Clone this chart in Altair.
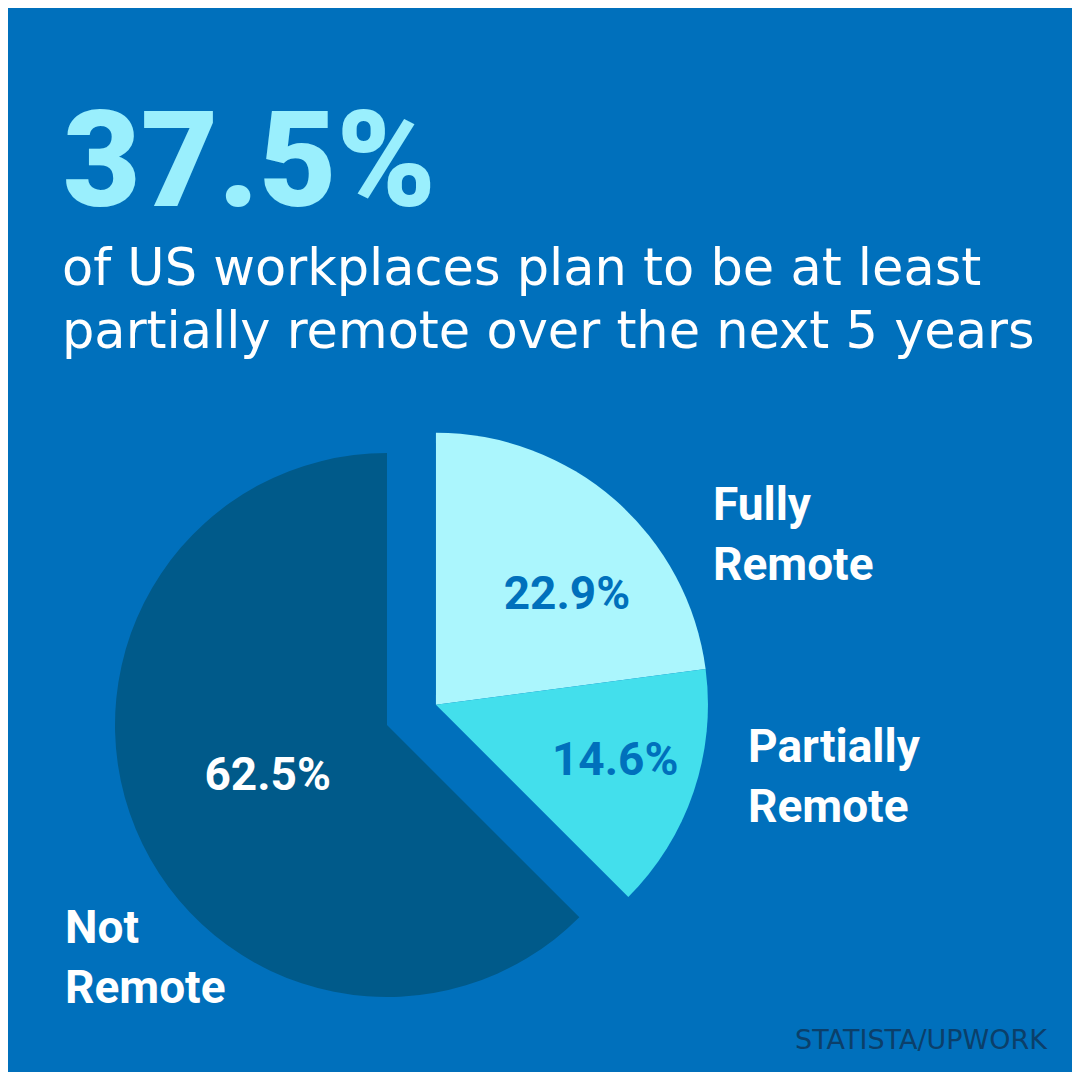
import math
import altair as alt
import pandas as pd

# ---- data ----
categories = ["Fully Remote", "Partially Remote", "Not Remote"]
values = [22.9, 14.6, 62.5]
label_text = ["Fully\nRemote", "Partially\nRemote", "Not\nRemote"]
groups = ["remote", "remote", "not"]
headline = "37.5%"
subtitle = "of US workplaces plan to be at least\npartially remote over the next 5 years"
source = "STATISTA/UPWORK"

# ---- style ----
BG = "#0070BC"
slice_colors = ["#ABF6FD", "#43DFEC", "#005A8A"]
pct_colors = ["#0070BC", "#0070BC", "#FFFFFF"]
FONT = "Roboto"
R = 272
CX, CY = 379, 717          # centre of the main pie
EXPLODE = 53               # pull-out distance of the remote slices

remote_share = sum(v for v, g in zip(values, groups) if g == "remote")
mid_ang = 2 * math.pi * (remote_share / 2) / 100
EX, EY = CX + EXPLODE * math.sin(mid_ang), CY - EXPLODE * math.cos(mid_ang)

df = pd.DataFrame({
    "category": categories,
    "value": values,
    "pct": [f"{v}%" for v in values],
    "name": label_text,
    "group": groups,
    "order": list(range(len(categories))),
})

theta_scale = alt.Scale(domain=[0, 100], range=[0, 2 * math.pi])
color_scale = alt.Scale(domain=categories, range=slice_colors)

base = alt.Chart(df).transform_window(
    cum="sum(value)", sort=[{"field": "order"}], frame=[None, 0]
).transform_calculate(
    start="datum.cum - datum.value",
    mid="datum.cum - datum.value / 2",
)

def arcs(group, cx, cy):
    return base.transform_filter(f"datum.group == '{group}'").mark_arc(
        radius=R
    ).encode(
        theta=alt.Theta("start:Q", scale=theta_scale),
        theta2="cum:Q",
        color=alt.Color("category:N", scale=color_scale, legend=None),
        x=alt.value(cx),
        y=alt.value(cy),
    )

layers = [arcs("not", CX, CY), arcs("remote", EX, EY)]

# percentage labels inside slices (polar placement + small nudges)
pct_style = {
    "Fully Remote": dict(r=170, dx=19, dy=18),
    "Partially Remote": dict(r=185, dx=4, dy=-3),
    "Not Remote": dict(r=128, dx=-1, dy=2),
}
for cat, col, g in zip(categories, pct_colors, groups):
    s = pct_style[cat]
    cx, cy = (EX, EY) if g == "remote" else (CX, CY)
    layers.append(
        base.transform_filter(f"datum.category == '{cat}'").mark_text(
            radius=s["r"], dx=s["dx"], dy=s["dy"], font=FONT, fontWeight="bold",
            fontSize=46, color=col, align="center", baseline="middle",
        ).encode(
            theta=alt.Theta("mid:Q", scale=theta_scale),
            text="pct:N",
            x=alt.value(cx),
            y=alt.value(cy),
        )
    )

# category names outside
name_pos = {
    "Fully Remote": (705, 512),
    "Partially Remote": (740, 754),
    "Not Remote": (57, 935),
}
for cat in categories:
    px, py = name_pos[cat]
    layers.append(
        base.transform_filter(f"datum.category == '{cat}'").mark_text(
            font=FONT, fontWeight="bold", fontSize=46, color="#FFFFFF",
            align="left", baseline="alphabetic", lineBreak="\n", lineHeight=60,
        ).encode(text="name:N", x=alt.value(px), y=alt.value(py))
    )

def text_layer(txt, x, y, **kw):
    return alt.Chart(pd.DataFrame({"t": [txt]})).mark_text(**kw).encode(
        text="t:N", x=alt.value(x), y=alt.value(y)
    )

layers.append(text_layer(headline, 55, 198, font=FONT, fontWeight=900, fontSize=134,
                         color="#9AEFFD", align="left", baseline="alphabetic"))
layers.append(text_layer(subtitle, 54, 277, font="DejaVu Sans", fontSize=51,
                         color="#FFFFFF", align="left", baseline="alphabetic",
                         lineBreak="\n", lineHeight=63))
layers.append(text_layer(source, 1039, 1041, font="DejaVu Sans", fontSize=27,
                         color="#0B3F6A", align="right", baseline="alphabetic"))

chart = alt.layer(*layers).properties(
    width=1064, height=1064, padding=0,
    autosize=alt.AutoSizeParams(type="fit", contains="padding"),
    background=BG,
).configure_view(stroke=None)

chart.save("out.html", embed_options={"renderer": "svg", "actions": False})
